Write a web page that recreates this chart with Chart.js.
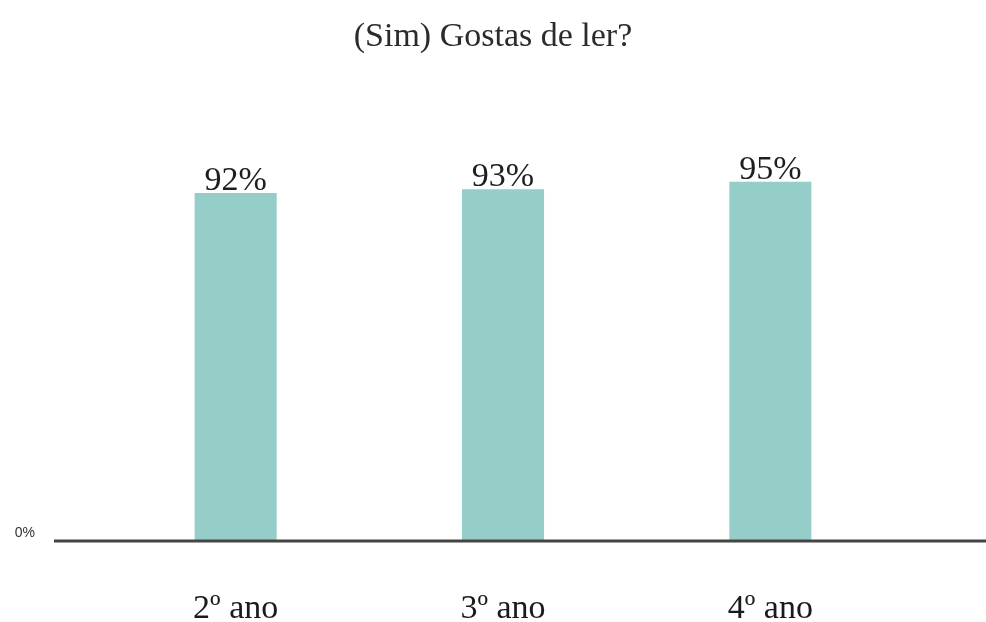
<!DOCTYPE html>
<html>
<head>
<meta charset="utf-8">
<script src="https://cdn.jsdelivr.net/npm/chart.js@4"></script>
<style>
    body { margin: 0; background: #fff; }
    .wrap { width: 986px; height: 622px; }
</style>
</head>
<body>
<div class="wrap"><canvas id="gostas-chart"></canvas></div>
<script>
// start: Data
const categories = ['2º ano', '3º ano', '4º ano']
const simValues = [92, 93, 95]
const yTickValues = [0]
// end: Data

const serif = "'Liberation Serif', 'Times New Roman', serif"

// baseline across the plot, plus the % text above each bar
const barExtras = {
    id: 'barExtras',
    afterDatasetsDraw(chart) {
        const ctx = chart.ctx
        const area = chart.chartArea
        const y0 = chart.scales.y.getPixelForValue(0)
        ctx.save()
        ctx.strokeStyle = '#444'
        ctx.lineWidth = 3
        ctx.beginPath()
        ctx.moveTo(area.left - 48, y0)
        ctx.lineTo(chart.width, y0)
        ctx.stroke()

        ctx.fillStyle = '#1e1e1e'
        ctx.font = '34px ' + serif
        ctx.textAlign = 'center'
        ctx.textBaseline = 'alphabetic'
        chart.getDatasetMeta(0).data.forEach(function (bar, i) {
            ctx.fillText(simValues[i] + '%', bar.x, bar.y - 3)
        })
        ctx.restore()
    }
}

new Chart(document.getElementById('gostas-chart'), {
    type: 'bar',
    data: {
        labels: categories,
        datasets: [
            {
                label: 'Sim',
                data: simValues,
                backgroundColor: '#95cec8',
                borderWidth: 0,
                barPercentage: 1,
                categoryPercentage: 0.307
            }
        ]
    },
    options: {
        responsive: true,
        maintainAspectRatio: false,
        animation: false,
        layout: { padding: 0 },
        plugins: {
            legend: { display: false },
            tooltip: { enabled: false },
            title: {
                display: true,
                text: '(Sim) Gostas de ler?',
                color: '#2b2b2b',
                font: { family: serif, size: 34, weight: 'normal' },
                padding: { top: 17, bottom: 105 }
            }
        },
        scales: {
            x: {
                grid: { display: false, drawTicks: false },
                border: { display: false },
                ticks: {
                    color: '#1a1a1a',
                    font: { family: serif, size: 34 },
                    padding: 48
                },
                afterFit: function (s) { s.height = 81 }
            },
            y: {
                min: 0,
                max: 100,
                grid: { display: false, drawTicks: false },
                border: { display: false },
                afterBuildTicks: function (s) {
                    s.ticks = yTickValues.map(v => ({ value: v }))
                },
                ticks: {
                    color: '#333',
                    font: { family: "'Liberation Sans', Arial, sans-serif", size: 14 },
                    padding: 67,
                    labelOffset: -8,
                    callback: v => v + '%'
                },
                afterFit: function (s) { s.width = 102 }
            },
            yRight: {
                position: 'right',
                grid: { display: false, drawTicks: false },
                border: { display: false },
                ticks: { display: false },
                afterFit: function (s) { s.width = 82 }
            }
        }
    },
    plugins: [barExtras]
});
</script>
</body>
</html>
